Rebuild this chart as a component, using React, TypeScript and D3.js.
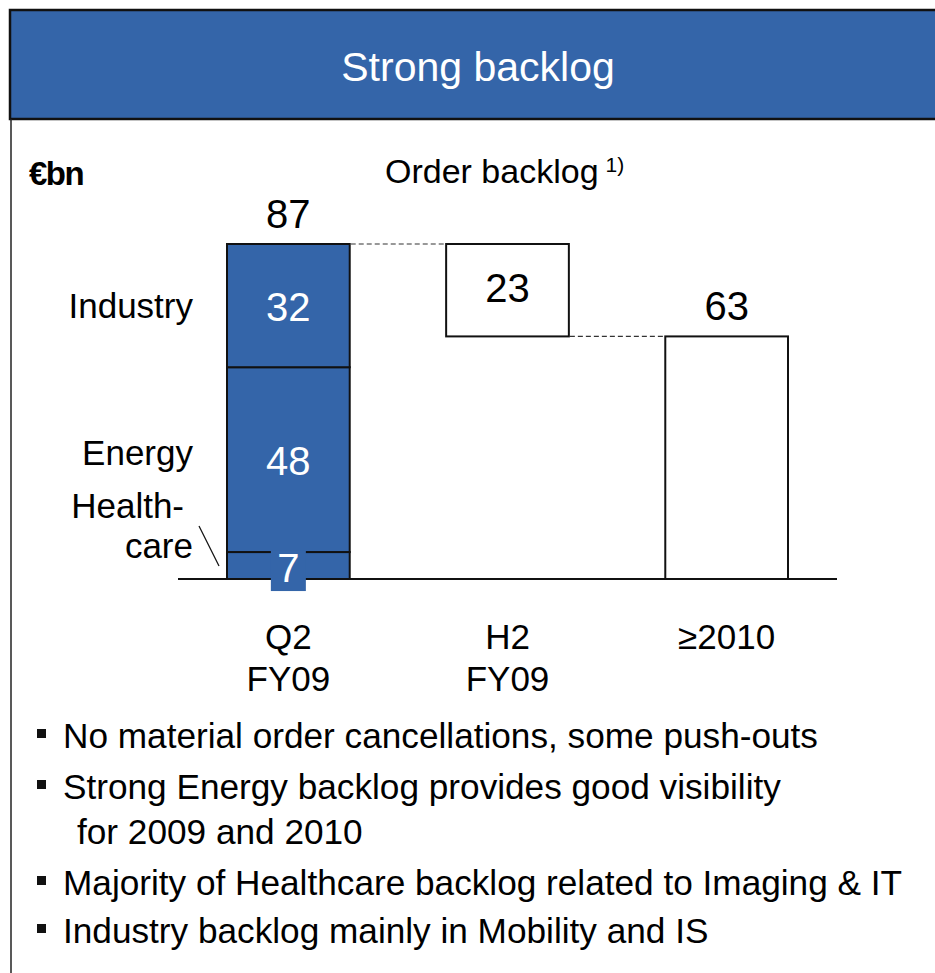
import { useEffect, useRef } from "react"
import * as d3 from "d3"

const categories = ["Q2\nFY09", "H2\nFY09", "≥2010"]
const segments = ["Healthcare", "Energy", "Industry"]
const segmentValues = [7, 48, 32]
const segmentLabels = ["Health-\ncare", "Energy", "Industry"]
const total = 87
const h2Value = 23
const laterValue = 63
const bullets = [
    ["No material order cancellations, some push-outs"],
    ["Strong Energy backlog provides good visibility", "for 2009 and 2010"],
    ["Majority of Healthcare backlog related to Imaging & IT"],
    ["Industry backlog mainly in Mobility and IS"],
]

const BLUE = "#3465a9"
const FONT = "'Liberation Sans', Arial, Helvetica, sans-serif"

export default function App() {
    const ref = useRef<SVGSVGElement | null>(null)

    useEffect(() => {
        const svg = d3.select(ref.current)
        svg.selectAll("*").remove()
        svg.attr("font-family", FONT)

        // header band
        svg.append("rect")
            .attr("x", 10).attr("y", 10)
            .attr("width", 940).attr("height", 109)
            .attr("fill", BLUE)
            .attr("stroke", "#111").attr("stroke-width", 2.5)
        svg.append("text")
            .attr("x", 478).attr("y", 81)
            .attr("text-anchor", "middle")
            .attr("fill", "#fff")
            .attr("font-size", 41)
            .text("Strong backlog")
        // left frame line
        svg.append("line")
            .attr("x1", 11).attr("x2", 11)
            .attr("y1", 119).attr("y2", 973)
            .attr("stroke", "#222").attr("stroke-width", 1.5)

        svg.append("text")
            .attr("x", 29).attr("y", 185)
            .attr("font-size", 33).attr("font-weight", "bold")
            .attr("letter-spacing", -1.5)
            .text("€bn")

        const ob = svg.append("text").attr("x", 385).attr("y", 183).attr("font-size", 34)
        ob.append("tspan").text("Order backlog")
        ob.append("tspan").attr("dx", 7).attr("dy", -11).attr("font-size", 21).text("1)")

        const x = d3.scaleBand<string>()
            .domain(categories)
            .range([227, 788])
            .paddingInner(0.44)
            .paddingOuter(0)
        const y = d3.scaleLinear().domain([0, total]).range([579, 244])
        const bw = x.bandwidth()

        // stacked first bar
        const row: Record<string, number> = {}
        segments.forEach((s, i) => { row[s] = segmentValues[i] })
        const stacked = d3.stack<Record<string, number>>().keys(segments)([row])
        const x0 = x(categories[0])!
        const cx0 = x0 + bw / 2

        svg.append("g")
            .selectAll("rect")
            .data(stacked)
            .join("rect")
            .attr("x", x0)
            .attr("y", d => y(d[0][1]))
            .attr("width", bw)
            .attr("height", d => y(d[0][0]) - y(d[0][1]))
            .attr("fill", BLUE)
            .attr("stroke", "#111")
            .attr("stroke-width", 2)

        // baseline
        svg.append("line")
            .attr("x1", 178).attr("x2", 837)
            .attr("y1", y(0)).attr("y2", y(0))
            .attr("stroke", "#111").attr("stroke-width", 2)

        // segment value labels
        stacked.forEach((d, i) => {
            const lo = d[0][0], hi = d[0][1]
            if (i === 0) {
                svg.append("rect")
                    .attr("x", cx0 - 17.5).attr("y", y(hi) - 2)
                    .attr("width", 35).attr("height", 41)
                    .attr("fill", BLUE)
                svg.append("text")
                    .attr("x", cx0).attr("y", y(hi) + 30)
                    .attr("text-anchor", "middle").attr("fill", "#fff")
                    .attr("font-size", 40)
                    .text(segmentValues[i])
            } else {
                svg.append("text")
                    .attr("x", cx0).attr("y", (y(lo) + y(hi)) / 2 + 15)
                    .attr("text-anchor", "middle").attr("fill", "#fff")
                    .attr("font-size", 40)
                    .text(segmentValues[i])
            }
        })

        // side labels
        const sideY = [518, 465, 318]
        segmentLabels.forEach((lab, i) => {
            const lines = lab.split("\n")
            lines.forEach((ln, j) => {
                svg.append("text")
                    .attr("x", j === 0 && lines.length > 1 ? 184 : 193)
                    .attr("y", sideY[i] + j * 40)
                    .attr("text-anchor", "end")
                    .attr("font-size", 35)
                    .text(ln)
            })
        })
        svg.append("line")
            .attr("x1", 199).attr("y1", 526)
            .attr("x2", 219).attr("y2", 566)
            .attr("stroke", "#111").attr("stroke-width", 1.2)

        svg.append("text")
            .attr("x", cx0).attr("y", y(total) - 16)
            .attr("text-anchor", "middle").attr("font-size", 40)
            .text(total)

        // H2 floating box
        const x1 = x(categories[1])!
        svg.append("rect")
            .attr("x", x1).attr("y", y(total))
            .attr("width", bw).attr("height", y(laterValue) - y(total))
            .attr("fill", "#fff").attr("stroke", "#111").attr("stroke-width", 2)
        svg.append("text")
            .attr("x", x1 + bw / 2).attr("y", (y(total) + y(laterValue)) / 2 + 12)
            .attr("text-anchor", "middle").attr("font-size", 40)
            .text(h2Value)

        // >=2010 bar
        const x2 = x(categories[2])!
        svg.append("rect")
            .attr("x", x2).attr("y", y(laterValue))
            .attr("width", bw).attr("height", y(0) - y(laterValue))
            .attr("fill", "#fff").attr("stroke", "#111").attr("stroke-width", 2)
        svg.append("text")
            .attr("x", x2 + bw / 2).attr("y", y(laterValue) - 16)
            .attr("text-anchor", "middle").attr("font-size", 40)
            .text(laterValue)

        // dashed connectors
        const dash = [
            [x0 + bw, x1, total],
            [x1 + bw, x2, laterValue],
        ]
        svg.append("g")
            .selectAll("line")
            .data(dash)
            .join("line")
            .attr("x1", d => d[0] + 1).attr("x2", d => d[1] - 1)
            .attr("y1", d => y(d[2])).attr("y2", d => y(d[2]))
            .attr("stroke", "#333").attr("stroke-width", 1.2)
            .attr("stroke-dasharray", "5,3")

        // category labels
        categories.forEach(c => {
            c.split("\n").forEach((ln, j) => {
                svg.append("text")
                    .attr("x", x(c)! + bw / 2)
                    .attr("y", 649 + j * 42)
                    .attr("text-anchor", "middle")
                    .attr("font-size", 35)
                    .text(ln)
            })
        })

        // bullets
        const bulletY = [748, 799, 895, 943]
        bullets.forEach((lines, i) => {
            svg.append("rect")
                .attr("x", 37).attr("y", bulletY[i] - 19)
                .attr("width", 9).attr("height", 9)
                .attr("fill", "#111")
            lines.forEach((ln, j) => {
                svg.append("text")
                    .attr("x", j === 0 ? 63 : 77)
                    .attr("y", bulletY[i] + j * 45)
                    .attr("font-size", 35.2)
                    .text(ln)
            })
        })
    }, [])

    return (
        <div style={{ position: "absolute", left: 0, top: 0 }}>
            <svg ref={ref} width={935} height={973} style={{ display: "block", background: "#fff" }} />
        </div>
    )
}
